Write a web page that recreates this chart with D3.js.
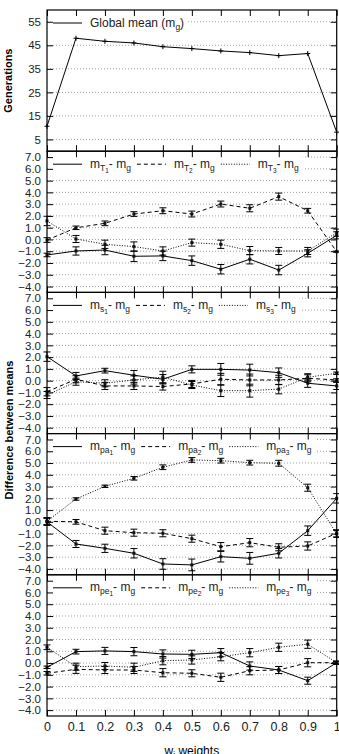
<!DOCTYPE html>
<html>
<head>
<meta charset="utf-8">
<script src="https://cdn.jsdelivr.net/npm/d3@7"></script>
<style>
  body { margin: 0; background: #fff; }
  text { font-family: "Liberation Sans", Arial, sans-serif; }
</style>
</head>
<body>
<div id="chart"></div>
<script>
// x values (weights)
var weights = [0, 0.1, 0.2, 0.3, 0.4, 0.5, 0.6, 0.7, 0.8, 0.9, 1];

// top panel: generations
var globalMean = [10.6, 48.0, 46.7, 46.0, 44.4, 43.6, 42.6, 41.9, 40.6, 41.5, 8.1];

// differences between means
var mT1 = [-1.32, -0.98, -0.9, -1.43, -1.4, -1.8, -2.53, -1.68, -2.6, -1.18, 0.35];
var mT1Err = [0.15, 0.35, 0.4, 0.45, 0.4, 0.4, 0.4, 0.4, 0.4, 0.3, 0.3];
var mT2 = [-0.05, 0.99, 1.37, 2.16, 2.44, 2.16, 3.01, 2.65, 3.64, 2.44, -1.04];
var mT2Err = [0.2, 0.15, 0.2, 0.2, 0.25, 0.25, 0.25, 0.3, 0.3, 0.2, 0.05];
var mT3 = [1.57, 0.04, -0.41, -0.61, -0.98, -0.27, -0.41, -0.95, -0.98, -0.98, 0.58];
var mT3Err = [0.4, 0.3, 0.35, 0.4, 0.35, 0.3, 0.35, 0.35, 0.3, 0.3, 0.3];

var ms1 = [2.04, 0.4, 0.85, 0.46, 0.12, 0.96, 0.96, 0.9, 0.68, -0.22, -0.45];
var ms1Err = [0.4, 0.3, 0.2, 0.4, 0.4, 0.3, 0.5, 0.5, 0.4, 0.35, 0.3];
var ms2 = [-0.94, 0.12, -0.45, -0.45, -0.5, -0.28, 0.12, 0.06, 0.06, 0.2, 0.06];
var ms2Err = [0.35, 0.3, 0.3, 0.3, 0.3, 0.3, 0.5, 0.5, 0.4, 0.3, 0.1];
var ms3 = [-1.22, -0.09, -0.22, 0.06, 0.3, -0.37, -0.85, -0.85, -0.72, 0.29, 0.63];
var ms3Err = [0.3, 0.3, 0.3, 0.35, 0.5, 0.3, 0.5, 0.55, 0.4, 0.3, 0.1];

var mpa1 = [0.0, -1.88, -2.25, -2.67, -3.58, -3.66, -2.96, -3.1, -2.67, -0.75, 2.0];
var mpa1Err = [0.3, 0.3, 0.35, 0.4, 0.45, 0.5, 0.45, 0.5, 0.4, 0.4, 0.4];
var mpa2 = [0.05, 0.0, -0.75, -0.92, -0.97, -1.43, -2.11, -1.77, -2.16, -2.05, -0.97];
var mpa2Err = [0.3, 0.2, 0.3, 0.3, 0.3, 0.3, 0.35, 0.35, 0.3, 0.35, 0.3];
var mpa3 = [0.05, 1.94, 3.02, 3.7, 4.64, 5.26, 5.2, 5.03, 4.98, 2.9, -1.03];
var mpa3Err = [0.3, 0.1, 0.1, 0.15, 0.2, 0.2, 0.2, 0.2, 0.25, 0.3, 0.3];

var mpe1 = [-0.36, 0.97, 1.03, 0.97, 0.77, 0.74, 0.88, -0.25, -0.59, -1.5, 0.03];
var mpe1Err = [0.1, 0.2, 0.3, 0.35, 0.35, 0.35, 0.35, 0.35, 0.3, 0.3, 0.15];
var mpe2 = [-0.87, -0.53, -0.59, -0.59, -0.82, -0.87, -1.21, -0.65, -0.59, 0.03, 0.03];
var mpe2Err = [0.15, 0.35, 0.3, 0.3, 0.35, 0.3, 0.35, 0.35, 0.3, 0.35, 0.1];
var mpe3 = [1.34, -0.31, -0.25, -0.36, 0.2, 0.26, 0.54, 0.88, 1.34, 1.6, 0.03];
var mpe3Err = [0.2, 0.3, 0.3, 0.35, 0.35, 0.35, 0.35, 0.35, 0.35, 0.35, 0.1];

var genTicks = [5, 15, 25, 35, 45, 55];
var diffTicks = [-4, -3, -2, -1, 0, 1, 2, 3, 4, 5, 6, 7];

// legend labels: [text, level] level 0 = normal, 1 = subscript, 2 = sub-subscript
function lbl(base, idx) {
  return [["m", 0], [base, 1], [idx, 2], ["- m", 0], ["g", 1]];
}

// line styles for the three series
var styles = ["none", "4,3", "1,1.6"];

var panels = [
  { domain: [0, 60], ticks: genTicks, fmt: d3.format("d"),
    series: [{ v: globalMean, e: null, label: [["Global mean (m", 0], ["g", 1], [")", 0]] }] },
  { domain: [-4.5, 7.5], ticks: diffTicks, fmt: d3.format(".1f"),
    series: [{ v: mT1, e: mT1Err, label: lbl("T", "1") },
             { v: mT2, e: mT2Err, label: lbl("T", "2") },
             { v: mT3, e: mT3Err, label: lbl("T", "3") }] },
  { domain: [-4.5, 7.5], ticks: diffTicks, fmt: d3.format(".1f"),
    series: [{ v: ms1, e: ms1Err, label: lbl("s", "1") },
             { v: ms2, e: ms2Err, label: lbl("s", "2") },
             { v: ms3, e: ms3Err, label: lbl("s", "3") }] },
  { domain: [-4.5, 7.5], ticks: diffTicks, fmt: d3.format(".1f"),
    series: [{ v: mpa1, e: mpa1Err, label: lbl("pa", "1") },
             { v: mpa2, e: mpa2Err, label: lbl("pa", "2") },
             { v: mpa3, e: mpa3Err, label: lbl("pa", "3") }] },
  { domain: [-4.5, 7.5], ticks: diffTicks, fmt: d3.format(".1f"),
    series: [{ v: mpe1, e: mpe1Err, label: lbl("pe", "1") },
             { v: mpe2, e: mpe2Err, label: lbl("pe", "2") },
             { v: mpe3, e: mpe3Err, label: lbl("pe", "3") }] }
];

var width = 339, height = 754;
var left = 47, right = 336.7, top0 = 10, panelH = 141.2;

var svg = d3.select("#chart")
  .append("svg")
  .attr("width", width)
  .attr("height", height);

var x = d3.scaleLinear().domain([0, 1]).range([left, right]);

function writeLabel(textSel, parts) {
  var sizes = [12, 8.5, 6.5], offs = [0, 3, 5];
  var cur = 0;
  parts.forEach(function(p) {
    var o = offs[p[1]];
    textSel.append("tspan")
      .attr("dy", o - cur)
      .style("font-size", sizes[p[1]] + "px")
      .text(p[0]);
    cur = o;
  });
}

panels.forEach(function(p, i) {
  var top = top0 + i * panelH, bottom = top + panelH;
  var y = d3.scaleLinear().domain(p.domain).range([bottom, top]);
  var g = svg.append("g");

  // grid
  g.selectAll(".grid")
    .data(p.ticks)
    .enter().append("line")
      .attr("x1", left).attr("x2", right)
      .attr("y1", function(d) { return y(d); })
      .attr("y2", function(d) { return y(d); })
      .style("stroke", "#888")
      .style("stroke-width", 0.8)
      .style("stroke-dasharray", "1,2");

  // legend (measure text first)
  var leg = g.append("g");
  var bg = leg.append("rect").style("fill", "#fff");
  var texts = p.series.map(function(s) {
    var t = leg.append("text")
      .attr("y", top + 16.5)
      .style("fill", "#222");
    writeLabel(t, s.label);
    return t;
  });
  var maxW = d3.max(texts, function(t) { return t.node().getComputedTextLength(); });
  var colW = 43 + maxW;
  var lastEnd = 0;
  p.series.forEach(function(s, j) {
    var cx = 53 + j * colW;
    leg.append("line")
      .attr("x1", cx).attr("x2", cx + 29)
      .attr("y1", top + 13).attr("y2", top + 13)
      .style("stroke", "#000")
      .style("stroke-width", 1)
      .style("stroke-dasharray", styles[j]);
    texts[j].attr("x", cx + 37);
    lastEnd = cx + 37 + texts[j].node().getComputedTextLength();
  });
  bg.attr("x", 48).attr("y", top + 1)
    .attr("width", lastEnd + 4 - 48).attr("height", 21);

  // series
  p.series.forEach(function(s, j) {
    var line = d3.line()
      .x(function(d, k) { return x(weights[k]); })
      .y(function(d) { return y(d); });
    g.append("path")
      .datum(s.v)
      .attr("d", line)
      .style("fill", "none")
      .style("stroke", "#000")
      .style("stroke-width", 1)
      .style("stroke-dasharray", styles[j]);

    if (s.e) {
      var eb = g.selectAll(null).data(s.v).enter().append("g");
      eb.append("line")
        .attr("x1", function(d, k) { return x(weights[k]); })
        .attr("x2", function(d, k) { return x(weights[k]); })
        .attr("y1", function(d, k) { return y(d - s.e[k]); })
        .attr("y2", function(d, k) { return y(d + s.e[k]); })
        .style("stroke", "#000").style("stroke-width", 1);
      [-1, 1].forEach(function(sg) {
        eb.append("line")
          .attr("x1", function(d, k) { return x(weights[k]) - 3.5; })
          .attr("x2", function(d, k) { return x(weights[k]) + 3.5; })
          .attr("y1", function(d, k) { return y(d + sg * s.e[k]); })
          .attr("y2", function(d, k) { return y(d + sg * s.e[k]); })
          .style("stroke", "#000").style("stroke-width", 1);
      });
      eb.append("rect")
        .attr("x", function(d, k) { return x(weights[k]) - 1.5; })
        .attr("y", function(d) { return y(d) - 1.5; })
        .attr("width", 3).attr("height", 3)
        .style("fill", "#111");
    } else {
      g.selectAll(null).data(s.v).enter().append("path")
        .attr("d", function(d, k) {
          var px = x(weights[k]), py = y(d);
          return "M" + (px - 2.5) + "," + py + "H" + (px + 2.5) +
                 "M" + px + "," + (py - 2.5) + "V" + (py + 2.5);
        })
        .style("stroke", "#000").style("stroke-width", 1);
    }
  });

  // border
  g.append("rect")
    .attr("x", left).attr("y", top)
    .attr("width", right - left).attr("height", panelH)
    .style("fill", "none").style("stroke", "#000").style("stroke-width", 1.2);

  // axes
  var yl = g.append("g").attr("transform", "translate(" + left + ",0)")
    .call(d3.axisLeft(y).tickValues(p.ticks).tickFormat(p.fmt).tickSize(-6).tickPadding(6));
  var yr = g.append("g").attr("transform", "translate(" + right + ",0)")
    .call(d3.axisRight(y).tickValues(p.ticks).tickFormat("").tickSize(-6));
  var xt = g.append("g").attr("transform", "translate(0," + top + ")")
    .call(d3.axisTop(x).tickValues(weights).tickFormat("").tickSize(-6));
  var xb = g.append("g").attr("transform", "translate(0," + bottom + ")")
    .call(d3.axisBottom(x).tickValues(weights)
      .tickFormat(i === panels.length - 1 ? d3.format("~g") : "")
      .tickSize(-6).tickPadding(6));
  [yl, yr, xt, xb].forEach(function(a) {
    a.select(".domain").remove();
    a.selectAll("line").style("stroke", "#000");
    a.selectAll("text")
      .style("font-family", "'Liberation Sans', Arial, sans-serif")
      .style("font-size", "11.5px")
      .style("fill", "#222");
  });
  xb.selectAll("text").style("font-size", "12.5px");
});

// axis titles
svg.append("text")
  .attr("transform", "translate(12," + (top0 + panelH / 2) + ") rotate(-90)")
  .attr("text-anchor", "middle")
  .style("font-size", "11px")
  .style("font-weight", "bold")
  .text("Generations");

svg.append("text")
  .attr("transform", "translate(12.5,430) rotate(-90)")
  .attr("text-anchor", "middle")
  .style("font-size", "11px")
  .style("font-weight", "bold")
  .text("Difference between means");

var xtitle = svg.append("text")
  .attr("x", (left + right) / 2)
  .attr("y", 755)
  .attr("text-anchor", "middle")
  .style("font-size", "12px");
xtitle.append("tspan").text("w");
xtitle.append("tspan").attr("dy", 3).style("font-size", "8.5px").text("i");
xtitle.append("tspan").attr("dy", -3).text(" weights");
</script>
</body>
</html>
